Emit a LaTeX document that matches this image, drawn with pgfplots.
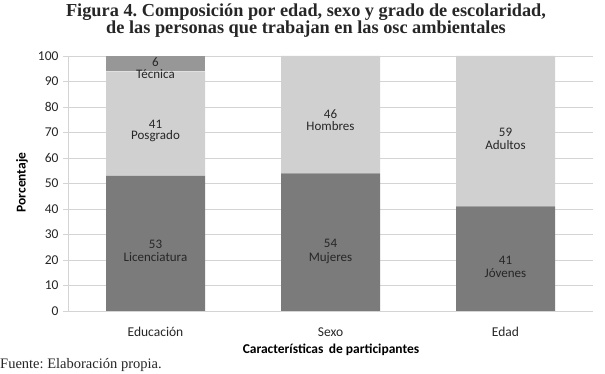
\documentclass[border=0pt]{standalone}
\usepackage{pgfplots}
\pgfplotsset{compat=1.18}
\usepackage{fontspec}
\setmainfont{Carlito}
\newfontfamily\serifT{Liberation Serif}
\definecolor{cDark}{HTML}{7B7B7B}
\definecolor{cLight}{HTML}{D0D0D0}
\definecolor{cMid}{HTML}{979797}
\definecolor{gridc}{HTML}{D4D4D4}
\definecolor{txt}{HTML}{262626}
\frenchspacing
\begin{document}
\begin{tikzpicture}[x=1pt,y=1pt]
\path[use as bounding box] (0,0) rectangle (605,374);
\begin{axis}[
  at={(68pt,63pt)}, anchor=south west,
  scale only axis, width=525pt, height=255pt,
  xmin=-0.5, xmax=2.5, ymin=0, ymax=100,
  ybar stacked, bar width=99pt,
  xtick={0,1,2}, xticklabels={Educación,Sexo,Edad},
  ytick={0,10,...,100},
  axis x line*=bottom, axis y line*=left,
  axis line style={gridc, line width=0.8pt},
  ymajorgrids, major grid style={gridc, line width=0.8pt},
  tick align=outside, major tick length=5pt,
  ytick style={gridc, line width=0.8pt},
  xtick style={draw=none},
  /pgf/number format/assume math mode=true,
  tick label style={font=\fontsize{13.5}{15}\selectfont, text=txt},
  yticklabel style={xshift=-1pt},
  xticklabel style={anchor=base, yshift=-20.7pt},
  clip=false,
]
\addplot[fill=cDark, draw=none] coordinates {(0,53) (1,54) (2,41)};
\addplot[fill=cLight, draw=none] coordinates {(0,41) (1,46) (2,59)};
\addplot[fill=cMid, draw=none] coordinates {(0,6) (1,0) (2,0)};
\end{axis}
\begin{scope}[every node/.style={anchor=base, inner sep=0pt, font=\fontsize{13}{14}\selectfont, text=txt}]
\node at (155.5,307.8) {6};
\node at (155.5,295) {Técnica};
\node at (155.5,245.7) {41};
\node at (155.5,234) {Posgrado};
\node at (155.5,125) {53};
\node at (155.5,112) {Licenciatura};
\node at (330.5,255) {46};
\node at (330.5,243) {Hombres};
\node at (330.5,126.7) {54};
\node at (330.5,112.3) {Mujeres};
\node at (505.5,237.3) {59};
\node at (505.5,224) {Adultos};
\node at (505.5,109) {41};
\node at (505.5,96.7) {Jóvenes};
\end{scope}
\node[anchor=base, inner sep=0pt, font=\serifT\bfseries\fontsize{18.3}{20}\selectfont, text=txt] at (306,357.3) {Figura 4. Composición por edad, sexo y grado de escolaridad,};
\node[anchor=base, inner sep=0pt, font=\serifT\bfseries\fontsize{18.3}{20}\selectfont, text=txt] at (306,340.7) {de las personas que trabajan en las osc ambientales};
\node[anchor=base, inner sep=0pt, font=\bfseries\fontsize{13.5}{15}\selectfont, text=black] at (331,20) {Características\, de participantes};
\node[anchor=base west, inner sep=0pt, font=\serifT\fontsize{14.5}{16}\selectfont, text=txt] at (0,5.7) {Fuente: Elaboración propia.};
\node[rotate=90, inner sep=0pt, font=\bfseries\fontsize{13.5}{15}\selectfont, text=black] at (22,191.5) {Porcentaje};
\end{tikzpicture}
\end{document}
